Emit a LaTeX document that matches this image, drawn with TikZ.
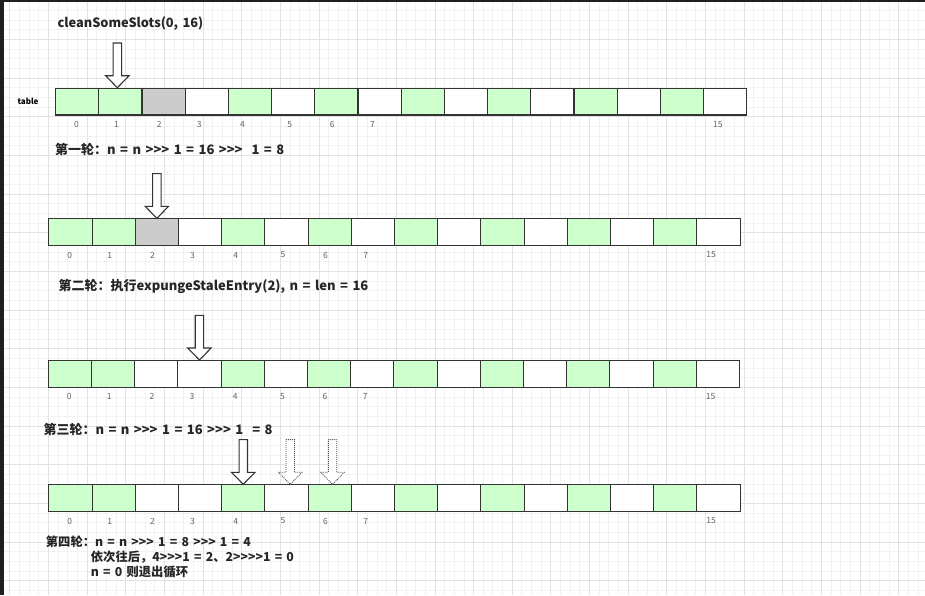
\documentclass[tikz,border=0pt]{standalone}
\usepackage{fontspec}
\setmainfont{Noto Sans CJK SC}[Ligatures=TeXOff, WordSpace=1.5]
\definecolor{slotgreen}{RGB}{204,255,204}
\definecolor{slotgray}{RGB}{204,204,204}
\definecolor{slotline}{RGB}{51,51,51}
\definecolor{gridminor}{RGB}{242,242,242}
\definecolor{gridmajor}{RGB}{226,226,226}
\definecolor{idxgray}{RGB}{100,100,100}
\definecolor{framedark}{RGB}{30,31,34}

\begin{document}
\begin{tikzpicture}[x=1pt, y=-1pt,
    cell/.style={draw=slotline, line width=1.1pt, minimum width=43.2pt, minimum height=26.7pt, inner sep=0, anchor=north west},
    idx/.style={font=\fontsize{8.5}{10}\selectfont, text=idxgray, inner sep=0},
    roundtext/.style={font=\bfseries\fontsize{13}{16}\selectfont, text=black!85, anchor=west, inner sep=0},
    notetext/.style={font=\bfseries\fontsize{12.3}{14}\selectfont, text=black!85, anchor=west, inner sep=0},
    blockarr/.style={draw=slotline, fill=white, line width=1.1pt},
    dottedarr/.style={draw=black!70, fill=white, line width=0.8pt, dash pattern=on 1pt off 1pt},
    pics/pointer/.style={code={
        \draw[#1] (-4.2,-44.7) -- (4.2,-44.7) -- (4.2,-12) -- (11.7,-12) -- (0,0)
            -- (-11.7,-12) -- (-4.2,-12) -- cycle;}}]
    \useasboundingbox (0,0) rectangle (925,595);
    \fill[white] (0,0) rectangle (925,595);

    % background grid
    \foreach \k in {-4,...,90}
        \draw[gridminor, line width=0.8pt] ({48.3+\k*9.665},0) -- ({48.3+\k*9.665},595);
    \foreach \k in {-12,...,49}
        \draw[gridminor, line width=0.8pt] (0,{116.7+\k*9.665}) -- (925,{116.7+\k*9.665});
    \foreach \k in {-1,...,22}
        \draw[gridmajor, line width=0.8pt] ({48.3+\k*38.66},0) -- ({48.3+\k*38.66},595);
    \foreach \k in {-3,...,12}
        \draw[gridmajor, line width=0.8pt] (0,{116.7+\k*38.66}) -- (925,{116.7+\k*38.66});
    \fill[framedark] (0,0) rectangle (4,595);
    \fill[framedark] (0,0) rectangle (925,1.7);

    % slot rows
    \foreach \r/\x/\y/\s in {1/55/87.7/slotgray, 2/48.3/218.3/slotgray, 3/47.7/360/white, 4/48.3/484.3/white} {
        \foreach \c [count=\i from 0] in {slotgreen,slotgreen,\s,white,slotgreen,white,slotgreen,white,
                                           slotgreen,white,slotgreen,white,slotgreen,white,slotgreen,white}
            \node[cell, fill=\c] (r\r c\i) at ({\x+\i*43.2},\y) {};
        \foreach \i/\dx in {0/21.5, 1/61.5, 2/104.3, 3/144.2, 4/187.5, 5/234.7, 6/277.2, 7/317.5, 15/662.8}
            \node[idx] (r\r i\i) at ({\x+\dx},{\y+36.7}) {\i};
    }
    \node[font=\bfseries\fontsize{8}{10}\selectfont, inner sep=0] (table) at (28,101.5) {table};

    % start
    \node[font=\bfseries\fontsize{12.8}{16}\selectfont, text=black!85, anchor=west, inner sep=0] (title) at (57.3,23.3) {cleanSomeSlots(0, 16)};
    \pic at ([xshift=-3pt]r1c1.north) {pointer=blockarr};

    % round 1
    \node[roundtext] (round1) at (55,149.3) {第一轮：n = n >>> 1 = 16 >>>\ \ 1 = 8};
    \pic at (r2c2.north) {pointer=blockarr};

    % round 2
    \node[roundtext] (round2) at (58.3,286) {第二轮：执行expungeStaleEntry(2), n = len = 16};
    \pic at (r3c3.north) {pointer=blockarr};

    % round 3
    \node[roundtext] (round3) at (43.3,429) {第三轮：n = n >>> 1 = 16 >>> 1\ \ = 8};
    \pic at (r4c4.north) {pointer=blockarr};
    \pic at ([xshift=3.8pt]r4c5.north) {pointer=dottedarr};
    \pic at ([xshift=2.9pt]r4c6.north) {pointer=dottedarr};

    % round 4
    \node[notetext] (round4) at (45.7,541.7) {第四轮：n = n >>> 1 = 8 >>> 1 = 4};
    \node[notetext] (next) at (90.7,556.7) {依次往后，4>>>1 = 2、2>>>>1 = 0};
    \node[notetext] (stop) at (90.7,571.7) {n = 0 则退出循环};
\end{tikzpicture}
\end{document}
